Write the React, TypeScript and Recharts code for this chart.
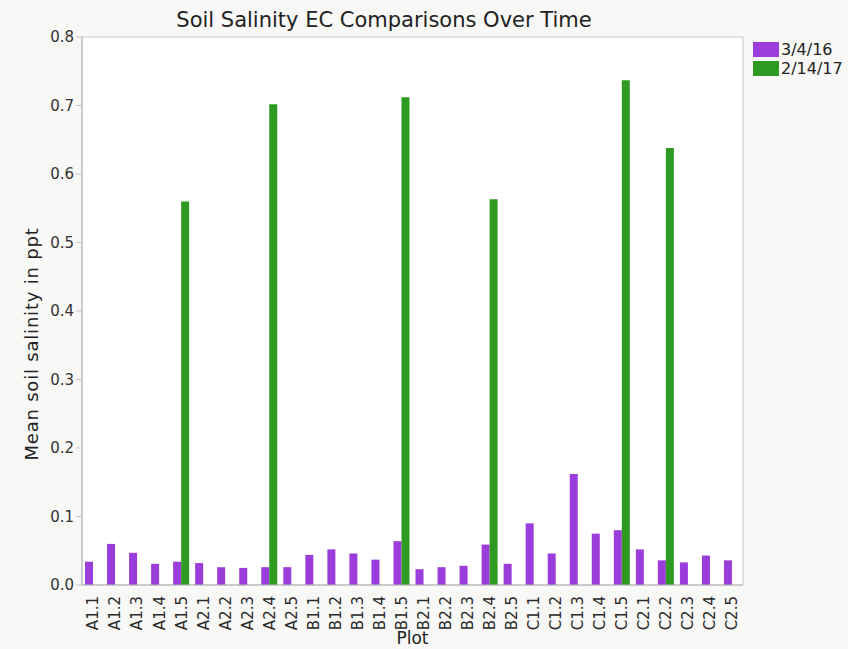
import React from "react";
import { BarChart, Bar, XAxis, YAxis, CartesianGrid, ReferenceArea, Label } from "recharts";

const plots: string[] = [
  "A1.1", "A1.2", "A1.3", "A1.4", "A1.5", "A2.1", "A2.2", "A2.3", "A2.4", "A2.5",
  "B1.1", "B1.2", "B1.3", "B1.4", "B1.5", "B2.1", "B2.2", "B2.3", "B2.4", "B2.5",
  "C1.1", "C1.2", "C1.3", "C1.4", "C1.5", "C2.1", "C2.2", "C2.3", "C2.4", "C2.5",
];

// mean EC, 3/4/16 sampling
const ec2016: number[] = [
  0.034, 0.06, 0.047, 0.031, 0.034, 0.032, 0.026, 0.025, 0.026, 0.026,
  0.044, 0.052, 0.046, 0.037, 0.064, 0.023, 0.026, 0.028, 0.059, 0.031,
  0.09, 0.046, 0.162, 0.075, 0.08, 0.052, 0.036, 0.033, 0.043, 0.036,
];

// mean EC, 2/14/17 sampling (only resampled plots)
const ec2017: (number | null)[] = [
  null, null, null, null, 0.56, null, null, null, 0.702, null,
  null, null, null, null, 0.712, null, null, null, 0.563, null,
  null, null, null, null, 0.737, null, 0.638, null, null, null,
];

const yTicks: number[] = [0, 0.1, 0.2, 0.3, 0.4, 0.5, 0.6, 0.7, 0.8];

const seriesNames = ["3/4/16", "2/14/17"];
const PURPLE = "#9b3ddb";
const GREEN = "#2f9a21";
const FONT = "'DejaVu Sans', sans-serif";

const data = plots.map((plot, i) => ({ plot, a: ec2016[i], b: ec2017[i] }));

const PlotTick = (props: any) => {
  const { x, y, payload } = props;
  return (
    <text
      x={x}
      y={y + 3}
      transform={`rotate(-90, ${x}, ${y + 3})`}
      textAnchor="end"
      dy="0.36em"
      fontSize={15}
      fontFamily={FONT}
      fill="#2a2a2a"
    >
      {payload.value}
    </text>
  );
};

// legend sits in the right margin, outside the plot frame
const LegendBox = () => (
  <div
    style={{
      position: "absolute",
      left: 753,
      top: 40,
      fontFamily: FONT,
      fontSize: 16,
      color: "#222",
    }}
  >
    {seriesNames.map((name, i) => (
      <div key={name} style={{ display: "flex", alignItems: "center", height: 19, whiteSpace: "nowrap" }}>
        <span
          style={{
            display: "inline-block",
            width: 26,
            height: 15,
            background: i === 0 ? PURPLE : GREEN,
            marginRight: 2,
          }}
        />
        {name}
      </div>
    ))}
  </div>
);

export default function App() {
  return (
    <div style={{ position: "fixed", left: 0, top: 0, width: 848, height: 649, background: "#f8f8f6" }}>
      <div
        style={{
          position: "absolute",
          left: 0,
          width: 768,
          top: 8,
          textAlign: "center",
          fontFamily: FONT,
          fontSize: 21,
          color: "#222",
        }}
      >
        Soil Salinity EC Comparisons Over Time
      </div>
      <BarChart
        width={848}
        height={649}
        data={data}
        margin={{ top: 37, right: 105, left: 0, bottom: 0 }}
        barCategoryGap={3}
        barGap={0}
      >
        <CartesianGrid horizontal={false} vertical={false} fill="#ffffff" stroke="none" />
        <ReferenceArea y1={0} y2={0.8} fill="none" stroke="#c6c6c6" strokeWidth={1} ifOverflow="visible" />
        <XAxis
          dataKey="plot"
          interval={0}
          height={64}
          tick={<PlotTick />}
          tickLine={false}
          axisLine={{ stroke: "#b5b5b5" }}
        >
          <Label
            value="Plot"
            position="insideBottom"
            offset={5}
            style={{ fontFamily: FONT, fontSize: 17, fill: "#222" }}
          />
        </XAxis>
        <YAxis
          width={82}
          domain={[0, 0.8]}
          ticks={yTicks}
          tickFormatter={(v: number) => v.toFixed(1)}
          tick={{ fontSize: 15, fontFamily: FONT, fill: "#333" }}
          tickLine={{ stroke: "#c6c6c6" }}
          tickSize={6}
          axisLine={{ stroke: "#b5b5b5" }}
        >
          <Label
            content={(p: any) => {
              const vb = p.viewBox;
              const cx = vb.x + 38;
              const cy = vb.y + vb.height / 2 + 33;
              return (
                <text
                  x={cx}
                  y={cy}
                  transform={`rotate(-90, ${cx}, ${cy})`}
                  textAnchor="middle"
                  fontFamily={FONT}
                  fontSize={18}
                  letterSpacing={0.8}
                  fill="#222"
                >
                  Mean soil salinity in ppt
                </text>
              );
            }}
          />
        </YAxis>
        <Bar dataKey="a" name={seriesNames[0]} fill={PURPLE} isAnimationActive={false} />
        <Bar dataKey="b" name={seriesNames[1]} fill={GREEN} isAnimationActive={false} />
      </BarChart>
      <LegendBox />
    </div>
  );
}
